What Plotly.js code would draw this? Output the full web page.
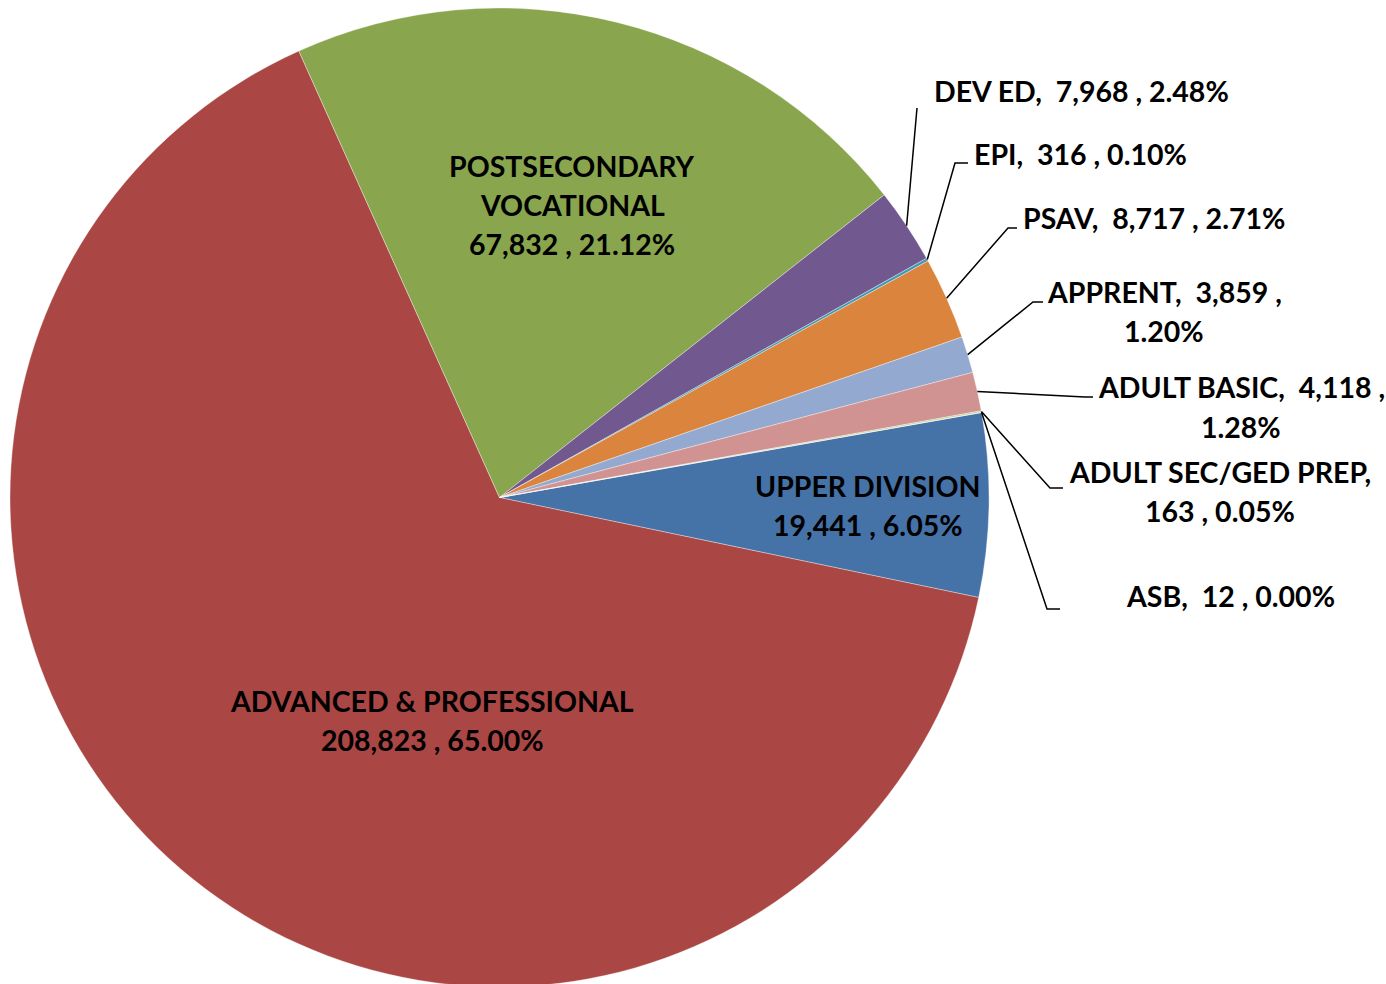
<!DOCTYPE html>
<html>
<head>
<meta charset="utf-8">
<script src="https://cdn.plot.ly/plotly-3.0.1.min.js"></script>
<style>
  html, body { margin: 0; padding: 0; overflow: hidden; background: #fff; }
  #chart { width: 1386px; height: 995px; }
</style>
</head>
<body>
<div id="chart"></div>
<script>
// --- data ---
const categories = ['UPPER DIVISION', 'ADVANCED & PROFESSIONAL', 'POSTSECONDARY VOCATIONAL', 'DEV ED', 'EPI',
    'PSAV', 'APPRENT', 'ADULT BASIC', 'ADULT SEC/GED PREP', 'ASB'];
const enrollments = [19441, 208823, 67832, 7968, 316, 8717, 3859, 4118, 163, 12];
const sliceColors = ['#4572A7', '#AA4643', '#89A54E', '#71588F', '#4198AF', '#DB843D', '#93A9CF', '#D19392', '#B9CD96', '#A99BBD'];

// --- layout helpers (pixels of the page) ---
const W = 1386, H = 995;
const pieX = [10, 989];
const startAngle = 80;
const cx = (pieX[0] + pieX[1]) / 2, cy = H / 2, R = (pieX[1] - pieX[0]) / 2;
const lineGap = 39;
const px = x => x / W;
const py = y => 1 - y / H;

// label block centres and how each label wraps
const labelPos = [[868, 505], [432, 720], [572, 205], [1081, 91], [1080, 154], [1154, 218],
    [1164, 311], [1241, 407], [1220, 491], [1230, 596]];
const wrapStyle = ['inside', 'inside', 'inside', 'one', 'one', 'one', 'pct', 'pct', 'name', 'one'];
// leader line bends for outside labels
const leaders = {
    3: [[917, 108]],
    4: [[955, 163], [968, 163]],
    5: [[1008, 228], [1017, 228]],
    6: [[1033, 302], [1043, 302]],
    7: [[1085, 397], [1093, 397]],
    8: [[1050, 488], [1063, 488]],
    9: [[1047, 609], [1060, 609]]
};

const total = enrollments.reduce((a, b) => a + b, 0);
const fmt = v => v.toLocaleString('en-US');
const pct = v => (v / total * 100).toFixed(2) + '%';

function labelLines(i) {
    const name = categories[i], v = fmt(enrollments[i]), p = pct(enrollments[i]);
    switch (wrapStyle[i]) {
        case 'inside':
            return (i === 2 ? name.split(' ') : [name]).concat([v + ' , ' + p]);
        case 'pct': return [name + ',  ' + v + ' ,', p];
        case 'name': return [name + ',', v + ' , ' + p];
        default: return [name + ',  ' + v + ' , ' + p];
    }
}

// one annotation per text line so the line spacing can follow the original
const annotations = [];
categories.forEach((c, i) => {
    const lines = labelLines(i);
    lines.forEach((t, k) => {
        annotations.push({
            xref: 'paper', yref: 'paper',
            x: px(labelPos[i][0]),
            y: py(labelPos[i][1] + (k - (lines.length - 1) / 2) * lineGap),
            xanchor: 'center', yanchor: 'middle',
            text: t, showarrow: false,
            font: { family: 'Lato, sans-serif', size: 28.5, color: '#000', weight: 700 }
        });
    });
});

// leader lines start at the slice's mid angle on the rim
const shapes = [];
let cum = 0;
enrollments.forEach((v, i) => {
    const mid = (startAngle + (cum + v / 2) / total * 360) * Math.PI / 180;
    cum += v;
    if (!leaders[i]) return;
    const pts = [[cx + R * Math.sin(mid), cy - R * Math.cos(mid)]].concat(leaders[i]);
    shapes.push({
        type: 'path', xref: 'paper', yref: 'paper',
        path: pts.map((p, k) => (k ? 'L' : 'M') + px(p[0]) + ',' + py(p[1])).join(' '),
        line: { color: '#000', width: 1.5 }
    });
});

const data = [{
    type: 'pie',
    labels: categories,
    values: enrollments,
    sort: false,
    direction: 'clockwise',
    rotation: startAngle,
    textinfo: 'none',
    hoverinfo: 'label+value+percent',
    marker: { colors: sliceColors, line: { color: 'rgba(255,255,255,0.6)', width: 0.6 } },
    domain: { x: [px(pieX[0]), px(pieX[1])], y: [0, 1] }
}];

const layout = {
    width: W, height: H,
    margin: { l: 0, r: 0, t: 0, b: 0 },
    paper_bgcolor: '#fff',
    showlegend: false,
    annotations: annotations,
    shapes: shapes
};

Plotly.newPlot('chart', data, layout, { displayModeBar: false, staticPlot: true });
</script>
</body>
</html>
